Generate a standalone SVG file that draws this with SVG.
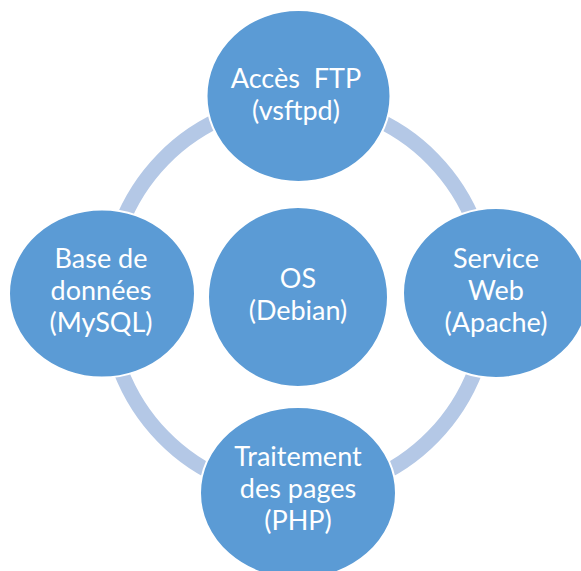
<svg xmlns="http://www.w3.org/2000/svg" width="581" height="571" viewBox="0 0 581 571">
<style>
.node{fill:#5B9BD5;stroke:#FFFFFF;stroke-width:2}
.lbl{fill:#FFFFFF;font-family:Lato,"Liberation Sans",sans-serif;font-size:27px;text-anchor:middle;white-space:pre}
.ring{fill:none;stroke:#B4C8E6;stroke-width:15}
</style>
<rect width="581" height="571" fill="#FFFFFF"/>
<g id="connectors">
<ellipse class="ring" cx="298" cy="298" rx="191" ry="196"/>
</g>
<g id="node-ftp">
<ellipse class="node" cx="298.5" cy="96" rx="92" ry="86"/>
<text class="lbl" x="296" y="88" xml:space="preserve">Accès  FTP</text>
<text class="lbl" x="296" y="120">(vsftpd)</text>
</g>
<g id="node-os">
<ellipse class="node" cx="298" cy="297" rx="90" ry="90"/>
<text class="lbl" x="298" y="288">OS</text>
<text class="lbl" x="298" y="320">(Debian)</text>
</g>
<g id="node-db">
<ellipse class="node" cx="102" cy="293.5" rx="93" ry="84"/>
<text class="lbl" x="101" y="268">Base de</text>
<text class="lbl" x="101" y="300">données</text>
<text class="lbl" x="101" y="332">(MySQL)</text>
</g>
<g id="node-web">
<ellipse class="node" cx="496" cy="293" rx="93" ry="85"/>
<text class="lbl" x="496" y="268">Service</text>
<text class="lbl" x="496" y="300">Web</text>
<text class="lbl" x="496" y="332">(Apache)</text>
</g>
<g id="node-php">
<ellipse class="node" cx="298" cy="493" rx="98" ry="86"/>
<text class="lbl" x="298" y="466">Traitement</text>
<text class="lbl" x="298" y="498">des pages</text>
<text class="lbl" x="298" y="530">(PHP)</text>
</g>
</svg>
